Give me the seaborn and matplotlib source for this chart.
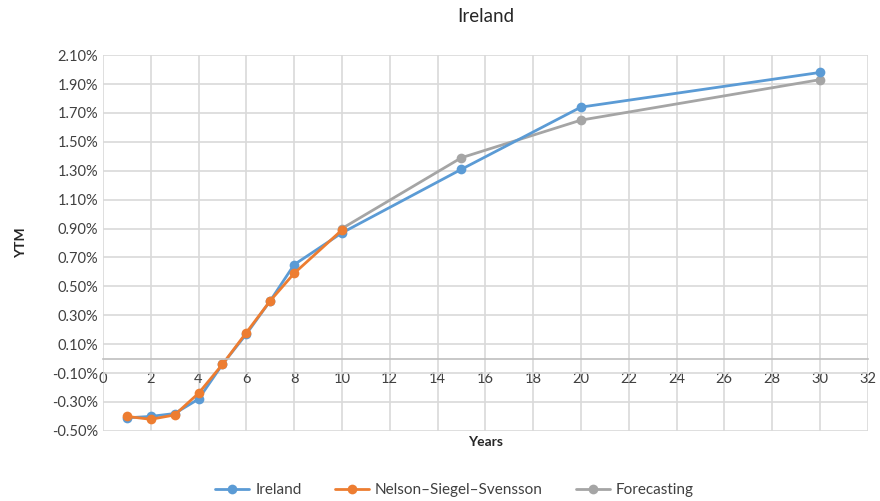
import matplotlib
matplotlib.use("Agg")
from matplotlib import pyplot as plt
from matplotlib.ticker import FuncFormatter, MultipleLocator, FixedLocator
import pandas as pd
import seaborn as sns

# values (yields in %)
ireland_years = [1, 2, 3, 4, 5, 6, 7, 8, 10, 15, 20, 30]
ireland_ytm = [-0.41, -0.40, -0.38, -0.28, -0.04, 0.17, 0.40, 0.65, 0.87, 1.31, 1.74, 1.98]

nss_years = [1, 2, 3, 4, 5, 6, 7, 8, 10]
nss_ytm = [-0.40, -0.42, -0.39, -0.24, -0.04, 0.18, 0.40, 0.59, 0.89]

forecast_years = [10, 15, 20, 30]
forecast_ytm = [0.90, 1.39, 1.65, 1.93]

y_ticks = [-0.5, -0.3, -0.1, 0.1, 0.3, 0.5, 0.7, 0.9, 1.1, 1.3, 1.5, 1.7, 1.9, 2.1]

sns.set_style("white")
plt.rcParams['font.family'] = ['Lato', 'DejaVu Sans']

df = pd.concat([
    pd.DataFrame({"Years": ireland_years, "YTM": ireland_ytm, "series": "Ireland"}),
    pd.DataFrame({"Years": nss_years, "YTM": nss_ytm, "series": "Nelson\u2013Siegel\u2013Svensson"}),
    pd.DataFrame({"Years": forecast_years, "YTM": forecast_ytm, "series": "Forecasting"}),
])
palette = {"Ireland": "#5B9BD5",
           "Nelson\u2013Siegel\u2013Svensson": "#ED7D31",
           "Forecasting": "#A5A5A5"}

fig, ax = plt.subplots(figsize=(8.8, 5.01), dpi=100)
fig.subplots_adjust(left=0.117, right=0.986, top=0.89, bottom=0.14)

# forecasting first so the other curves sit on top
for name in ["Forecasting", "Ireland", "Nelson\u2013Siegel\u2013Svensson"]:
    sns.lineplot(data=df[df.series == name], x="Years", y="YTM", color=palette[name],
                 marker="o", markersize=7, markeredgewidth=0, linewidth=2,
                 label=name, ax=ax)

ax.set_xlim(0, 32)
ax.set_ylim(-0.5, 2.1)
ax.xaxis.set_major_locator(MultipleLocator(2))
ax.yaxis.set_major_locator(FixedLocator(y_ticks))
ax.yaxis.set_major_formatter(FuncFormatter(lambda v, p: f"{v:.2f}%"))
ax.grid(True, color="#D9D9D9", linewidth=1.2)
ax.set_axisbelow(True)

for s in ["top", "right", "left"]:
    ax.spines[s].set_visible(False)
ax.spines["bottom"].set_position(("data", 0))
ax.spines["bottom"].set_color("#BFBFBF")
ax.spines["bottom"].set_linewidth(1.2)
ax.tick_params(axis="both", length=0, labelsize=10.5, colors="#404040")
ax.tick_params(axis="x", pad=10)

ax.set_title("Ireland", fontsize=13.5, color="#262626", pad=24)
ax.set_ylabel("YTM", fontsize=10, color="#262626", fontweight="bold", labelpad=18)
ax.set_xlabel("")
ax.text(0.5, -0.015, "Years", transform=ax.transAxes, ha="center", va="top",
        fontsize=10, color="#262626", fontweight="bold")

handles, labels = ax.get_legend_handles_labels()
order = [labels.index(n) for n in ["Ireland", "Nelson\u2013Siegel\u2013Svensson", "Forecasting"]]
ax.legend([handles[i] for i in order], [labels[i] for i in order],
          loc="center", bbox_to_anchor=(0.46, -0.157), ncol=3, frameon=False,
          fontsize=11, handlelength=2.2, columnspacing=2.2, handletextpad=0.4,
          labelcolor="#404040")

fig.savefig("out.png", dpi=100)
